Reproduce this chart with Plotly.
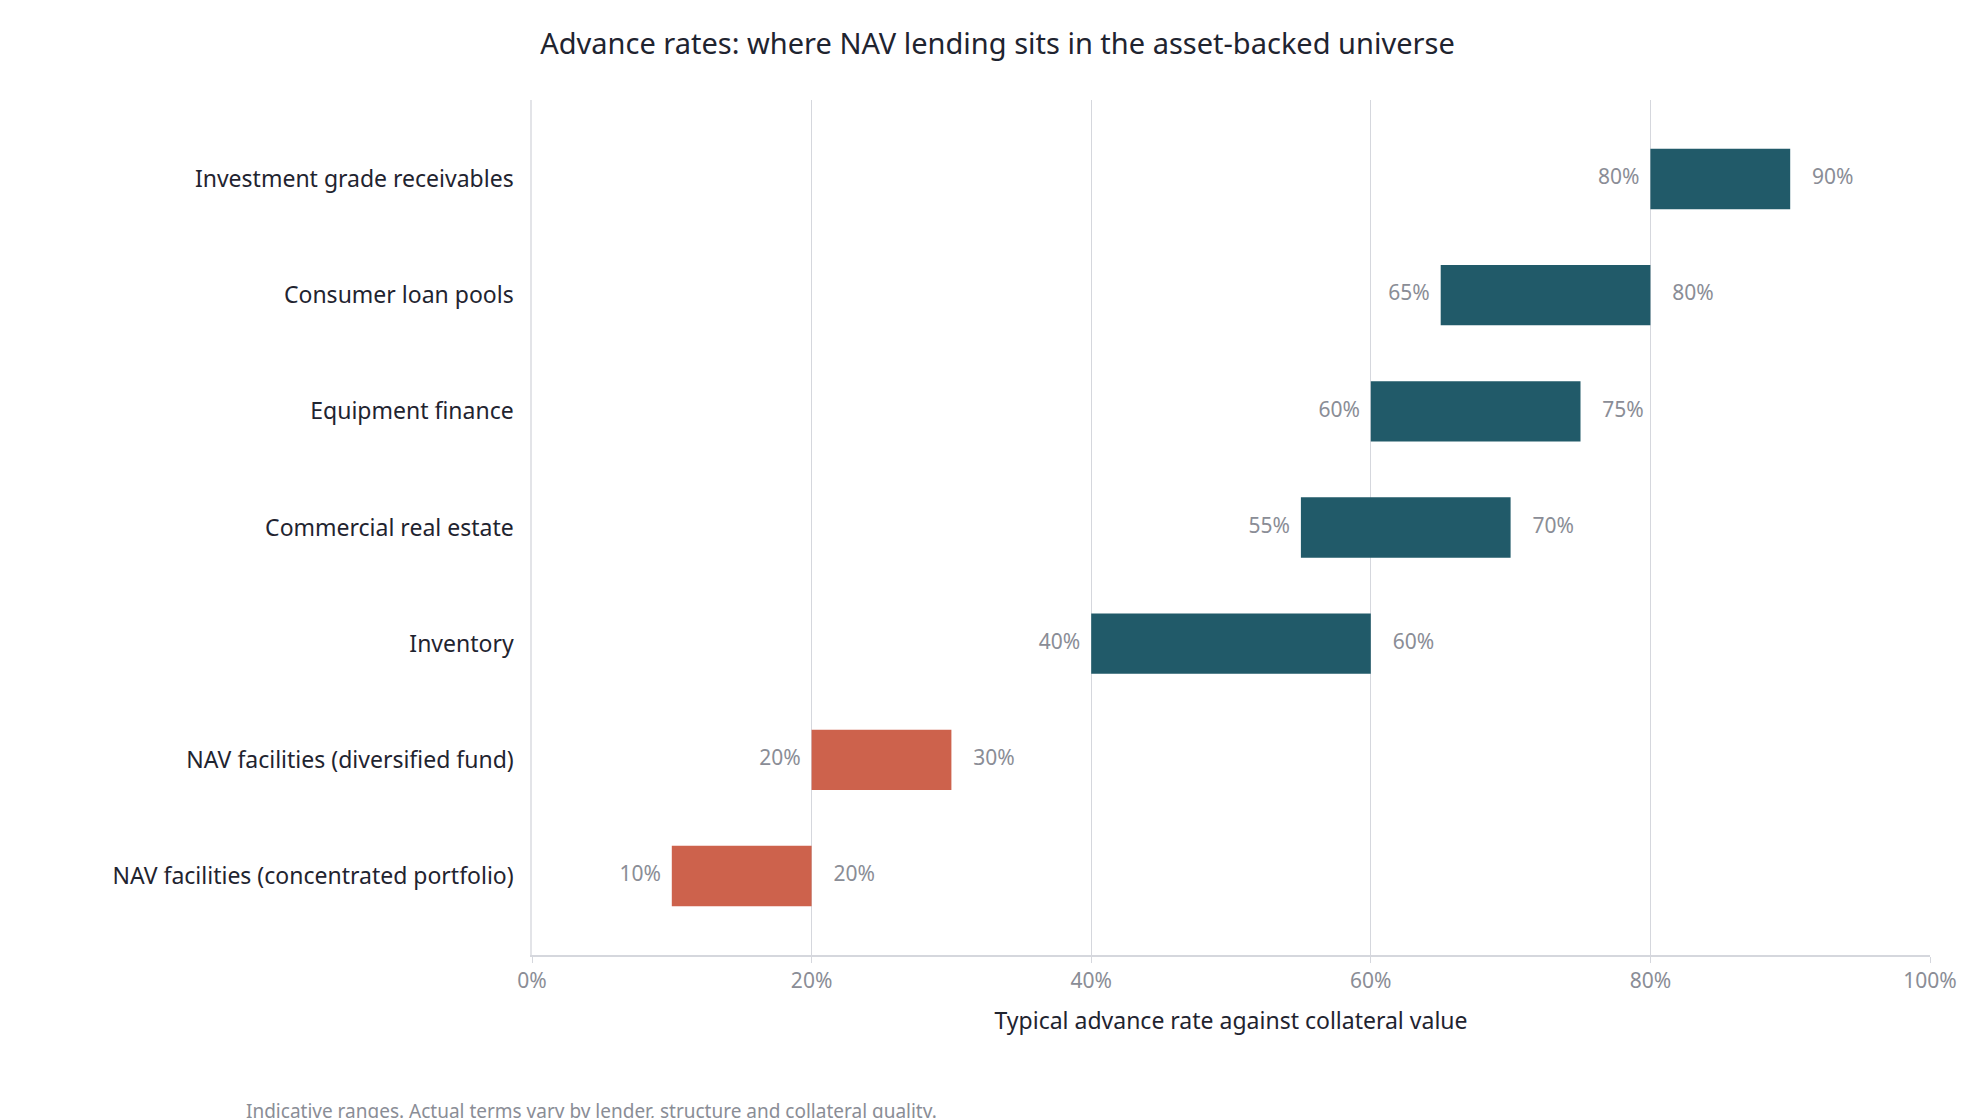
import plotly.graph_objects as go

categories = ["NAV facilities (concentrated portfolio)", "NAV facilities (diversified fund)",
              "Inventory", "Commercial real estate", "Equipment finance",
              "Consumer loan pools", "Investment grade receivables"]
low = [10, 20, 40, 55, 60, 65, 80]
high = [20, 30, 60, 70, 75, 80, 90]
colors = ["#cd624c", "#cd624c", "#215a69", "#215a69", "#215a69", "#215a69", "#215a69"]
tick_vals = [0, 20, 40, 60, 80, 100]
tick_text = ["0%", "20%", "40%", "60%", "80%", "100%"]

font = "Noto Sans"
fig = go.Figure()
fig.add_trace(go.Bar(y=categories, x=[h - l for h, l in zip(high, low)], base=low,
                     orientation="h", marker=dict(color=colors, line=dict(width=0)),
                     width=0.52, hoverinfo="skip", showlegend=False))
fig.add_trace(go.Scatter(y=categories, x=low, mode="text",
                         text=["%d%%  " % v for v in low], textposition="middle left",
                         textfont=dict(size=21, color="#8a8d96", family=font), showlegend=False))
fig.add_trace(go.Scatter(y=categories, x=high, mode="text",
                         text=["    %d%%" % v for v in high], textposition="middle right",
                         textfont=dict(size=21, color="#8a8d96", family=font), showlegend=False))
fig.update_layout(
    width=1979, height=1118, plot_bgcolor="white", paper_bgcolor="white",
    font=dict(family=font, color="#1f2430"),
    margin=dict(l=524, r=57, t=92, b=171),
    title=dict(text="Advance rates: where NAV lending sits in the asset-backed universe",
               x=0.5, xanchor="center", y=0.968, yanchor="middle",
               font=dict(size=29, color="#1f2430", family=font)),
    xaxis=dict(range=[0, 100], tickvals=tick_vals, ticktext=tick_text,
               showgrid=True, gridcolor="#d5d7dd", gridwidth=1.3, zeroline=False,
               showline=True, linecolor="#d5d7dd", linewidth=1.5,
               ticks="outside", ticklen=6, tickcolor="#d5d7dd",
               tickfont=dict(size=21, color="#8a8d96"),
               title=dict(text="Typical advance rate against collateral value",
                          font=dict(size=23, color="#1f2430"), standoff=20)),
    yaxis=dict(showgrid=False, tickfont=dict(size=23, color="#1f2430"), ticksuffix="  ",
               showline=True, linecolor="#e3e4e8", linewidth=1.5,
               range=[-0.68, 6.68]),
    annotations=[dict(text="Indicative ranges. Actual terms vary by lender, structure and collateral quality.",
                      xref="paper", yref="paper", x=(236 - 524) / (1979 - 524 - 57), y=-0.165,
                      xanchor="left", yanchor="top",
                      showarrow=False, font=dict(size=19, color="#8a8d96"))]
)
fig.write_html("out.html")
